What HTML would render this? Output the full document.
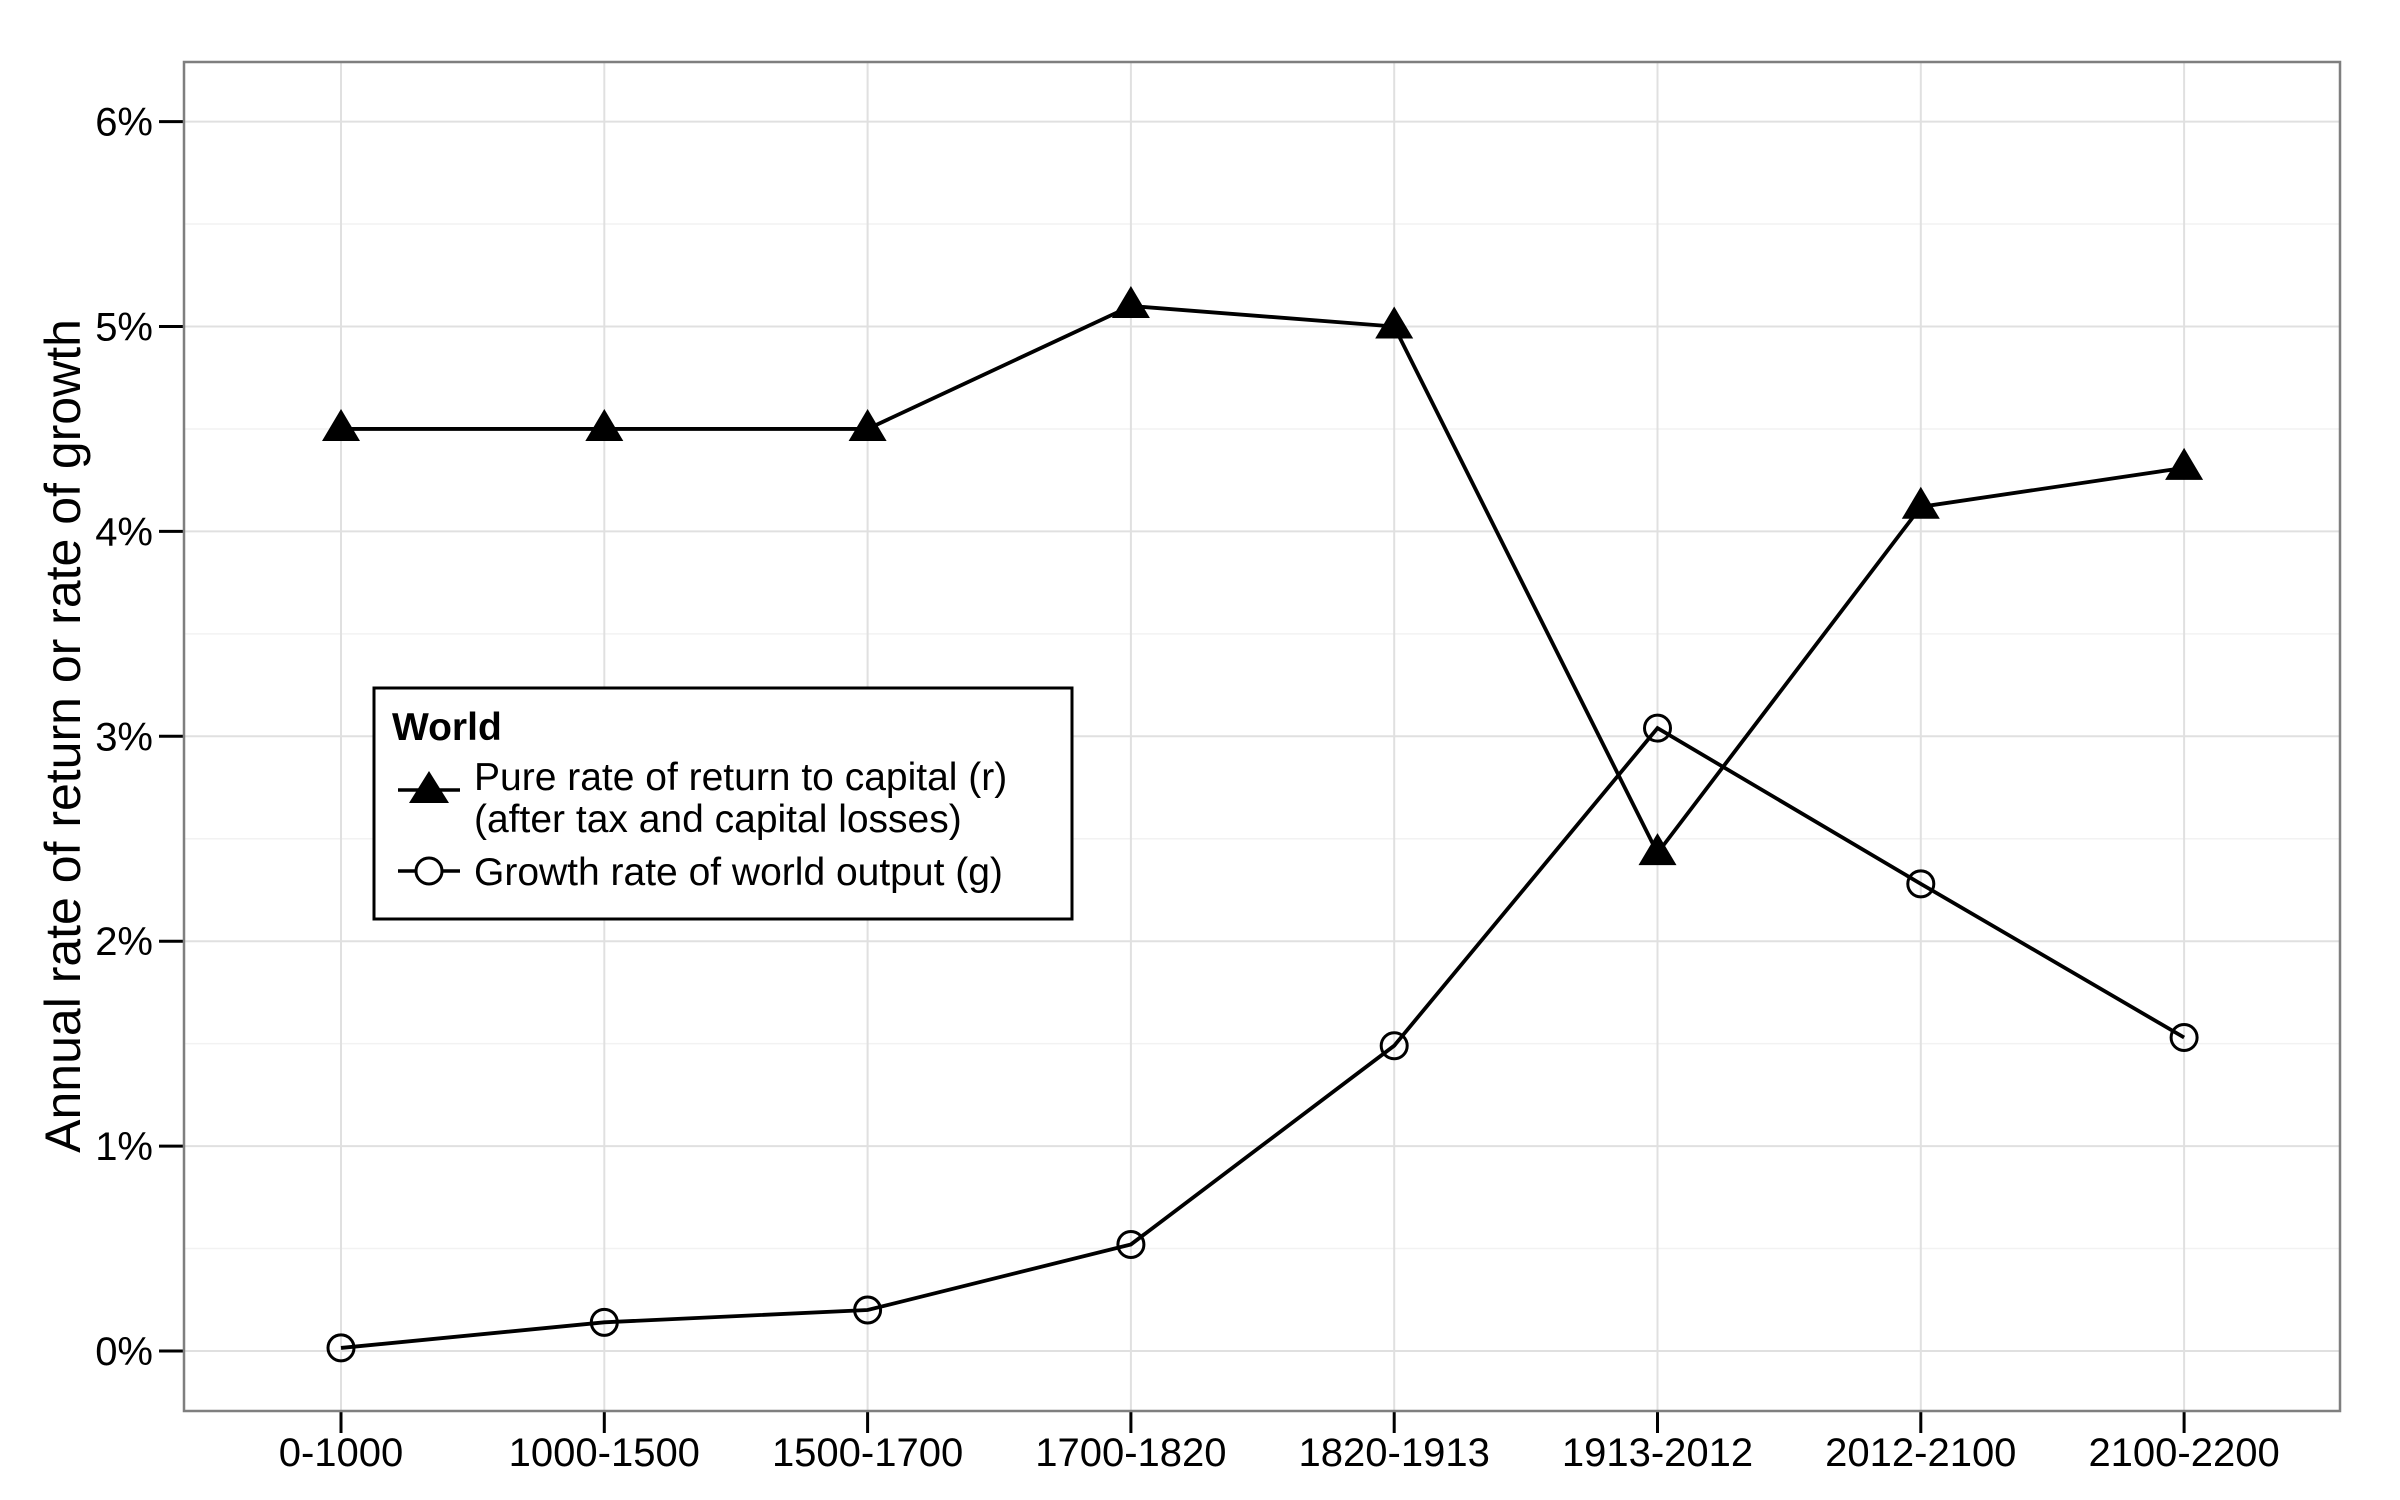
<!DOCTYPE html>
<html><head><meta charset="utf-8"><style>
html,body{margin:0;padding:0;background:#fff;}
svg{display:block;font-family:"Liberation Sans",Arial,sans-serif;}
</style></head><body>
<svg id="chart" width="2400" height="1500" viewBox="0 0 2400 1500">
<rect x="0" y="0" width="2400" height="1500" fill="#fff"/>
<g id="grid"></g>
<g id="axes"></g>
<g id="series"></g>
<text x="0" y="0" font-size="50" text-anchor="middle" transform="translate(80,736) rotate(-90)">Annual rate of return or rate of growth</text>
<g>
<rect x="374" y="688" width="698" height="231" fill="#fff" stroke="#000" stroke-width="3"/>
<text x="392" y="740" font-size="39" font-weight="bold">World</text>
<g>
<line x1="398" y1="790" x2="460" y2="790" stroke="#000" stroke-width="3.5"/>
<polygon points="429,771 449,803 409,803" fill="#000"/>
<text x="474" y="790" font-size="39">Pure rate of return to capital (r)</text>
<text x="474" y="832" font-size="39">(after tax and capital losses)</text>
</g>
<g>
<line x1="398" y1="871" x2="460" y2="871" stroke="#000" stroke-width="3.5"/>
<circle cx="429" cy="871" r="13" fill="#fff" stroke="#000" stroke-width="3"/>
<text x="474" y="885" font-size="39">Growth rate of world output (g)</text>
</g>
</g>
</svg>
<script>
const categories = ["0-1000","1000-1500","1500-1700","1700-1820","1820-1913","1913-2012","2012-2100","2100-2200"];
const rValues = [4.5,4.5,4.5,5.1,5.0,2.43,4.12,4.31];
const gValues = [0.015,0.14,0.2,0.52,1.49,3.04,2.28,1.53];
const yTicks = [0,1,2,3,4,5,6];
const yTickLabels = ["0%","1%","2%","3%","4%","5%","6%"];

const NS="http://www.w3.org/2000/svg";
const PL=184, PR=2340, PT=62, PB=1411;
function xs(i){return 341 + i*263.3;}
function ys(v){return 1351 - v*204.9;}
function mk(tag, attrs, parent){const e=document.createElementNS(NS,tag);for(const k in attrs)e.setAttribute(k,attrs[k]);parent.appendChild(e);return e;}
const grid=document.getElementById('grid'), axes=document.getElementById('axes'), series=document.getElementById('series');

for(let v=-0.5; v<=6.5; v+=1){const y=ys(v); if(y<PT||y>PB) continue;
 const l=mk('line',{x1:PL,x2:PR,y1:y,y2:y,stroke:'#f2f2f2','stroke-width':1.5},grid);
 
 }
yTicks.forEach((v,i)=>{const y=ys(v);
 const l=mk('line',{x1:PL,x2:PR,y1:y,y2:y,stroke:'#e0e0e0','stroke-width':2},grid);
 
 
 const t=mk('line',{x1:159,x2:PL,y1:y,y2:y,stroke:'#000','stroke-width':3},axes);
 
 
 const tx=mk('text',{x:153,y:y+14,'font-size':40,'text-anchor':'end'},axes);
 tx.textContent=yTickLabels[i];
 
 
});
categories.forEach((c,i)=>{const x=xs(i);
 const l=mk('line',{x1:x,x2:x,y1:PT,y2:PB,stroke:'#e0e0e0','stroke-width':2},grid);
 
 
 const t=mk('line',{x1:x,x2:x,y1:PB,y2:PB+22,stroke:'#000','stroke-width':3},axes);
 
 
 const tx=mk('text',{x:x,y:1466,'font-size':40,'text-anchor':'middle'},axes);
 tx.textContent=c;
 
 
});
const frame=mk('rect',{x:PL,y:PT,width:PR-PL,height:PB-PT,fill:'none',stroke:'#7f7f7f','stroke-width':2.5},axes);



const rl=mk('polyline',{points:rValues.map((v,i)=>xs(i)+','+ys(v)).join(' '),fill:'none',stroke:'#000','stroke-width':3.8},series);


const gl=mk('polyline',{points:gValues.map((v,i)=>xs(i)+','+ys(v)).join(' '),fill:'none',stroke:'#000','stroke-width':3.8},series);


rValues.forEach((v,i)=>{const x=xs(i),y=ys(v);
 const p=mk('polygon',{points:`${x},${y-20} ${x+19},${y+12} ${x-19},${y+12}`,fill:'#000'},series);
 
 });
gValues.forEach((v,i)=>{
 const c=mk('circle',{cx:xs(i),cy:ys(v),r:13,fill:'none',stroke:'#000','stroke-width':3},series);
 
 });
</script>
</body></html>
